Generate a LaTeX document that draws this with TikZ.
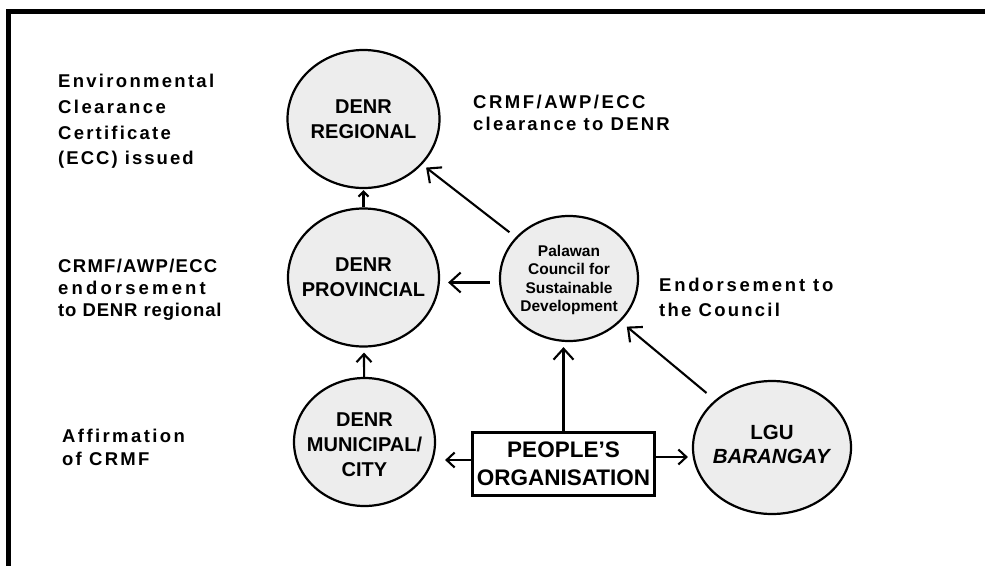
\documentclass[tikz,border=0pt]{standalone}
\usepackage{fontspec}
\setmainfont{Liberation Sans}
\usetikzlibrary{shapes.geometric,arrows.meta}
\newcommand{\lsp}[2]{{\addfontfeature{LetterSpace=#1}#2}}
\definecolor{cfill}{HTML}{EDEDED}
\tikzset{
  oval/.style={ellipse, draw, line width=2.2pt, fill=cfill, inner sep=0pt},
  otext/.style={inner sep=0pt, align=center, font=\bfseries\fontsize{20}{25}\selectfont},
  lbl/.style={anchor=base west, inner sep=0pt, font=\bfseries\fontsize{18.5}{20}\selectfont},
  conn/.style={line width=2.1pt},
  bigtip/.style={conn, -{Straight Barb[length=11pt,width=20pt,line width=2.1pt]}},
  midtip/.style={conn, -{Straight Barb[length=8pt,width=15pt,line width=2.1pt]}},
  smalltip/.style={conn, -{Straight Barb[length=5pt,width=10pt,line width=2.1pt]}},
}
\begin{document}
\begin{tikzpicture}[x=1pt,y=-1pt]
\useasboundingbox (0,0) rectangle (985,565);
% frame
\coordinate (fb) at (8.5,566);
\coordinate (fc) at (8.5,11.5);
\coordinate (fr) at (986,11.5);
\draw[line width=5pt] (fb) -- (fc) -- (fr);

% shapes
\node[oval, minimum width=152pt, minimum height=138pt] (reg) at (363.5,119) {};
\node[oval, minimum width=151pt, minimum height=138pt] (prov) at (363.5,277.5) {};
\node[oval, minimum width=138pt, minimum height=125pt] (pcsd) at (569,278.5) {};
\node[oval, minimum width=141pt, minimum height=128pt] (mun) at (364.5,442) {};
\node[oval, minimum width=158pt, minimum height=133pt] (lgu) at (772,447.5) {};
\node[draw, line width=2.6pt, fill=white, minimum width=182pt, minimum height=63pt, inner sep=0pt, align=center, font=\bfseries\fontsize{22.5}{28}\selectfont] (po) at (563.5,464) {PEOPLE’S\\ORGANISATION};

% texts inside
\node[otext] (regT) at (363.5,119.5) {DENR\\REGIONAL};
\node[otext] (provT) at (363.5,277.5) {DENR\\PROVINCIAL};
\node[otext, font=\bfseries\fontsize{15.5}{18.5}\selectfont] (pcsdT) at (569,280) {Palawan\\Council for\\Sustainable\\Development};
\node[otext] (munT) at (364.5,445) {DENR\\MUNICIPAL/\\CITY};
\node[otext, font=\bfseries\fontsize{20.5}{24}\selectfont] (lguT) at (772,444.5) {LGU\\\textit{BARANGAY}};

% connectors
\draw[smalltip, shorten >=1pt] (prov) -- (reg);
\draw[bigtip, shorten <=8pt, shorten >=5pt] (pcsd) -- (reg);
\draw[bigtip, shorten <=9pt, shorten >=8pt] ([yshift=-4pt]pcsd.west) -- ([yshift=-4pt]pcsd.west -| prov.east);
\draw[midtip, shorten >=5pt] (mun) -- (prov);
\draw[bigtip, shorten >=5pt] (po.north) -- (po.north |- pcsd.south);
\draw[midtip, shorten >=9pt] ([yshift=4pt]po.west) -- ([yshift=4pt]po.west -| mun.east);
\draw[midtip, shorten >=4pt] ([yshift=7pt]po.east) -- ([yshift=7pt]po.east -| lgu.west);
\draw[bigtip, shorten <=11pt, shorten >=8pt] (lgu) -- (pcsd);

% labels left
\node[lbl] (l1a) at (58,87) {\lsp{12.4}{Environmental}};
\node[lbl] (l1b) at (58,113) {\lsp{13}{Clearance}};
\node[lbl] (l1c) at (58,139) {\lsp{12}{Certificate}};
\node[lbl] (l1d) at (58,164) {\lsp{11}{(ECC) issued}};

\node[lbl] (l2a) at (58,272) {\lsp{7}{CRMF/AWP/ECC}};
\node[lbl] (l2b) at (58,294) {\lsp{17}{endorsement}};
\node[lbl] (l2c) at (58,316.5) {\lsp{4.7}{to DENR regional}};

\node[lbl] (l3a) at (62,442) {\lsp{13}{Affirmation}};
\node[lbl] (l3b) at (62,465) {\lsp{12}{of CRMF}};

% labels right
\node[lbl] (r1a) at (473,108) {\lsp{13.5}{CRMF/AWP/ECC}};
\node[lbl] (r1b) at (473,130) {\lsp{12}{clearance to DENR}};

\node[lbl] (r2a) at (659,291.5) {\lsp{15}{Endorsement to}};
\node[lbl] (r2b) at (659,316) {\lsp{12}{the Council}};
\end{tikzpicture}
\end{document}
